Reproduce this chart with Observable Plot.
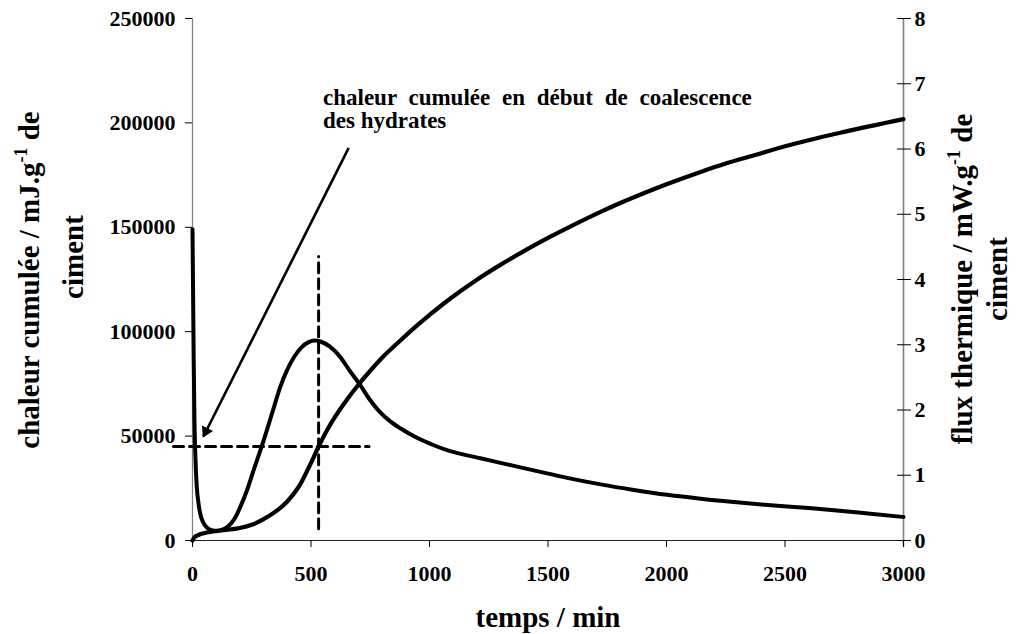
<!DOCTYPE html>
<html><head><meta charset="utf-8">
<script src="https://cdn.jsdelivr.net/npm/d3@7"></script>
<script src="https://cdn.jsdelivr.net/npm/@observablehq/plot@0.6"></script>
<style>
body{margin:0;background:#fff}
#chart svg{font-family:"Liberation Serif","Times New Roman",serif;font-weight:bold;}
</style>
</head><body><div id="chart"></div>
<script>
// cumulative heat (left axis, mJ/g)
const cumulTime = [0,5,10,20,30,45,60,80,100,130,160,200,250,300,350,400,450,500,532,560,600,650,700,750,800,877,950,1000,1088,1200,1299,1400,1510,1600,1722,1800,1933,2000,2144,2250,2355,2500,2750,3000];
const cumulHeat = [0,1000,1700,2400,2900,3400,3800,4200,4500,4900,5300,6000,7500,10200,13800,18700,26000,37200,45000,51300,59000,67200,74600,81300,87500,95800,103300,108000,115900,124900,132000,138700,145500,150700,157400,161400,167650,170600,176500,180500,184000,188800,195700,201800];
// heat flux (right axis, mW/g)
const fluxTime = [0,2,5,8,12,18,25,32,45,60,80,100,120,145,180,200,230,260,300,340,370,400,430,460,490,515,540,580,624,660,708,750,790,833,877,933,1018,1074,1159,1215,1299,1440,1581,1722,1862,2003,2144,2285,2426,2570,2707,2850,3000];
const fluxValue = [4.77,4.0,2.8,1.9,1.3,0.82,0.58,0.42,0.28,0.2,0.16,0.15,0.16,0.2,0.35,0.5,0.77,1.1,1.53,2.0,2.35,2.62,2.82,2.96,3.04,3.065,3.05,2.97,2.81,2.62,2.38,2.15,1.97,1.83,1.72,1.6,1.46,1.385,1.305,1.26,1.19,1.075,0.96,0.86,0.775,0.70,0.64,0.59,0.545,0.505,0.465,0.415,0.36];
// axes
const xTicks = [0,500,1000,1500,2000,2500,3000];
const leftTicks = [0,50000,100000,150000,200000,250000];
const rightTicks = [0,1,2,3,4,5,6,7,8];
const leftMax = 250000, rightMax = 8;
// annotation values (data units)
const markerHeat = 45000;          // horizontal dashed line level
const markerTime = 532;            // vertical dashed line time
const hLineTime = [-80, 745];      // extent of horizontal dashed line
const vLineHeat = [5600, 136000];  // extent of vertical dashed line
const arrowFrom = {t: 659, q: 188000};
const arrowTo = {t: 46, q: 49800};

const k = leftMax / rightMax;
const cumul = cumulTime.map((t,i)=>({t, q: cumulHeat[i]}));
const flux = fluxTime.map((t,i)=>({t, q: fluxValue[i]*k}));
const hLine = hLineTime.map(t=>({t, q: markerHeat}));
const vLine = vLineHeat.map(q=>({t: markerTime, q}));

const layout = {
  width: 1018, height: 634,
  marginLeft: 192, marginRight: 115, marginTop: 18, marginBottom: 94,
  x: {domain: [0, 3000]},
  y: {domain: [0, leftMax]},
  style: {fontFamily: '"Liberation Serif","Times New Roman",serif', fontSize: "22px", fontWeight: "bold", color: "black", background: "white", overflow: "visible"}
};
// first pass to get scales for arrowhead orientation
const probe = Plot.plot({...layout, marks: [Plot.dot(cumul, {x: "t", y: "q"})]});
const sx = probe.scale("x"), sy = probe.scale("y");
const px1 = sx.apply(arrowFrom.t), py1 = sy.apply(arrowFrom.q);
const px2 = sx.apply(arrowTo.t), py2 = sy.apply(arrowTo.q);
const len = Math.hypot(px2-px1, py2-py1);
const ux = (px2-px1)/len, uy = (py2-py1)/len;
const headAngle = Math.atan2(ux, -uy) * 180 / Math.PI; // clockwise from up
const headR = 3.6;
const tipDist = 2*Math.sqrt(Math.PI*headR*headR/(Math.sqrt(3)*3));

const plot = Plot.plot({
  ...layout,
  marks: [
    Plot.ruleX([0], {stroke: "#808080", strokeWidth: 1.2}),
    Plot.ruleX([3000], {stroke: "#808080", strokeWidth: 1.6, insetBottom: -7}),
    Plot.ruleY([0], {stroke: "#222", strokeWidth: 1.2}),
    Plot.axisX(xTicks, {tickSize: 7, tickPadding: 18, tickFormat: d=>String(d), label: null, fontSize: 22}),
    Plot.axisY(leftTicks, {anchor: "left", tickSize: 7, tickPadding: 10, tickFormat: d=>String(d), label: null, fontSize: 22}),
    Plot.axisY(rightTicks.map(v=>v*k), {anchor: "right", tickSize: 14, dx: -7, fill: "none", label: null}),
    Plot.axisY(rightTicks.map(v=>v*k), {anchor: "right", tickSize: 0, tickPadding: 11, tickFormat: d=>String(Math.round(d/k)), label: null, fontSize: 22}),
    Plot.line(hLine, {x: "t", y: "q", stroke: "black", strokeWidth: 3, strokeDasharray: "10,6"}),
    Plot.line(vLine, {x: "t", y: "q", stroke: "black", strokeWidth: 3, strokeDasharray: "10,6"}),
    Plot.line(flux, {x: "t", y: "q", stroke: "black", strokeWidth: 4, curve: "monotone-x"}),
    Plot.line(cumul, {x: "t", y: "q", stroke: "black", strokeWidth: 4.2, curve: "monotone-x"}),
    Plot.link([arrowFrom], {x1: "t", y1: "q", x2: ()=>arrowTo.t, y2: ()=>arrowTo.q, stroke: "black", strokeWidth: 2.6}),
    Plot.dot([arrowTo], {x: "t", y: "q", symbol: "triangle", r: headR, fill: "black", stroke: "black", strokeWidth: 1.5,
      rotate: headAngle, dx: -ux*tipDist, dy: -uy*tipDist})
  ]
});
document.getElementById("chart").appendChild(plot);

const svg = d3.select(plot);
const ff = '"Liberation Serif","Times New Roman",serif';
function addText(x, y, rot, anchor, size, parts, extra) {
  const t = svg.append("text")
    .attr("transform", `translate(${x},${y}) rotate(${rot})`)
    .attr("text-anchor", anchor)
    .attr("font-family", ff).attr("font-weight", "bold")
    .attr("font-size", size).attr("fill", "black");
  if (extra) Object.entries(extra).forEach(([a,v])=>t.attr(a,v));
  parts.forEach(p => {
    const s = t.append("tspan").text(p.text);
    if (p.sup) s.attr("font-size", size*0.62).attr("dy", -size*0.42);
    if (p.after) s.attr("dy", size*0.42);
  });
  return t;
}
addText(548, 627, 0, "middle", 29, [{text: "temps / min"}]);
addText(39, 280, -90, "middle", 29, [{text: "chaleur cumulée / mJ.g"}, {text: "-1", sup: true}, {text: " de", after: true}]);
addText(83, 257, -90, "middle", 29, [{text: "ciment"}]);
addText(972, 279, -90, "middle", 29, [{text: "flux thermique / mW.g"}, {text: "-1", sup: true}, {text: " de", after: true}]);
addText(1007, 279, -90, "middle", 29, [{text: "ciment"}]);
addText(323, 105, 0, "start", 23, [{text: "chaleur cumulée en début de coalescence"}], {"word-spacing": "6px"});
addText(323, 128, 0, "start", 23, [{text: "des hydrates"}]);
</script>
</body></html>
